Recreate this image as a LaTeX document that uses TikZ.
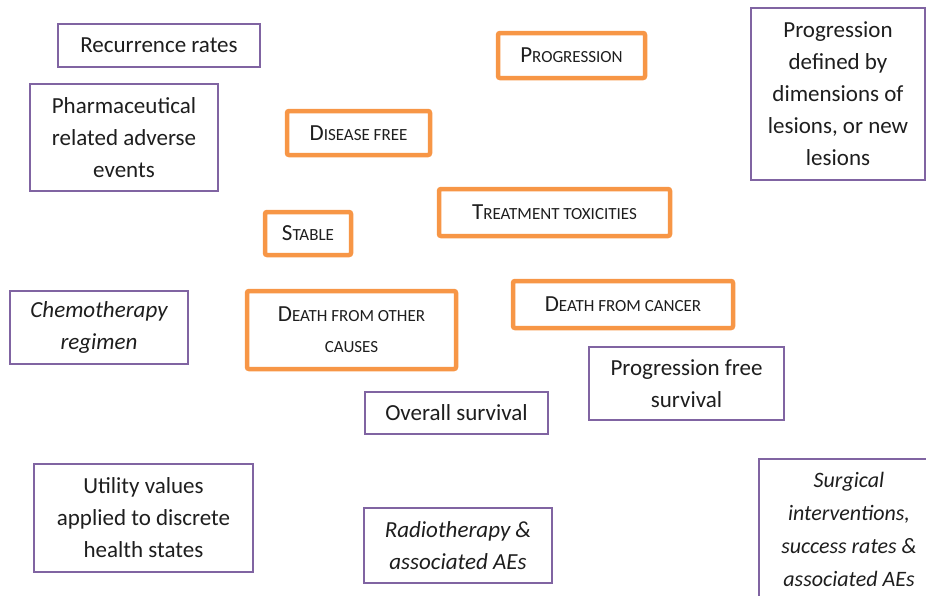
\documentclass[tikz,border=0pt]{standalone}
\usepackage{fontspec}
\setmainfont{Carlito}
\usepackage{xcolor}
\usepackage{tikz}
\definecolor{stateorange}{RGB}{247,150,70}
\definecolor{factorpurple}{RGB}{128,100,162}
\definecolor{inktext}{RGB}{30,30,30}
\newcommand{\lowcap}[1]{{\fontsize{17}{32}\selectfont #1}}
\newcommand{\capword}[2]{#1\lowcap{#2}}
\tikzstyle{state}=[rectangle, rounded corners=2pt, draw=stateorange, line width=4.5pt,
  fill=white, align=center, inner sep=0pt, text=inktext,
  font=\fontsize{23}{31}\selectfont]
\tikzstyle{factor}=[rectangle, draw=factorpurple, line width=1.6pt,
  fill=white, align=center, inner sep=0pt, text=inktext,
  font=\fontsize{23}{32}\selectfont]

\begin{document}
\begin{tikzpicture}[x=1pt, y=-1pt]
    \useasboundingbox (0,0) rectangle (926,595);

    % Health states (orange)
    \node[state, minimum width=147, minimum height=45] (prog) at (571.5,55.5) {\capword{P}{ROGRESSION}};
    \node[state, minimum width=143, minimum height=44] (disfree) at (358.5,133) {\capword{D}{ISEASE FREE}};
    \node[state, minimum width=231, minimum height=47] (toxic) at (554.5,212.5) {\capword{T}{REATMENT TOXICITIES}};
    \node[state, minimum width=86, minimum height=43] (stable) at (308,233.5) {\capword{S}{TABLE}};
    \node[state, minimum width=209, minimum height=78] (dother) at (351.5,330) {\capword{D}{EATH FROM OTHER}\\ \lowcap{CAUSES}};
    \node[state, minimum width=220, minimum height=47] (dcancer) at (623,304.5) {\capword{D}{EATH FROM CANCER}};

    % Model inputs and outcomes (purple)
    \node[factor, minimum width=202, minimum height=43] (recur) at (159,45.5) {Recurrence rates};
    \node[factor, minimum width=188, minimum height=107] (pharma) at (124,137.5) {Pharmaceutical\\ related adverse\\ events};
    \node[factor, minimum width=174, minimum height=172] (progdef) at (838,94) {Progression\\ defined by\\ dimensions of\\ lesions, or new\\ lesions};
    \node[factor, minimum width=178, minimum height=73, font=\fontsize{23}{32}\selectfont\itshape] (chemo) at (99,327.5) {Chemotherapy\\ regimen};
    \node[factor, minimum width=195, minimum height=73] (pfs) at (686.5,383.5) {Progression free\\ survival};
    \node[factor, minimum width=183, minimum height=42] (os) at (456.5,413) {Overall survival};
    \node[factor, minimum width=219, minimum height=108] (utility) at (143.5,518) {Utility values\\ applied to discrete\\ health states};
    \node[factor, minimum width=188, minimum height=75, font=\fontsize{23}{32}\selectfont\itshape] (radio) at (458,545.5) {Radiotherapy \&\\ associated AEs};
    \node[factor, minimum width=180, minimum height=140, font=\fontsize{22}{33}\selectfont\itshape] (surg) at (849,529) {Surgical\\ interventions,\\ success rates \&\\ associated AEs};

\end{tikzpicture}
\end{document}
